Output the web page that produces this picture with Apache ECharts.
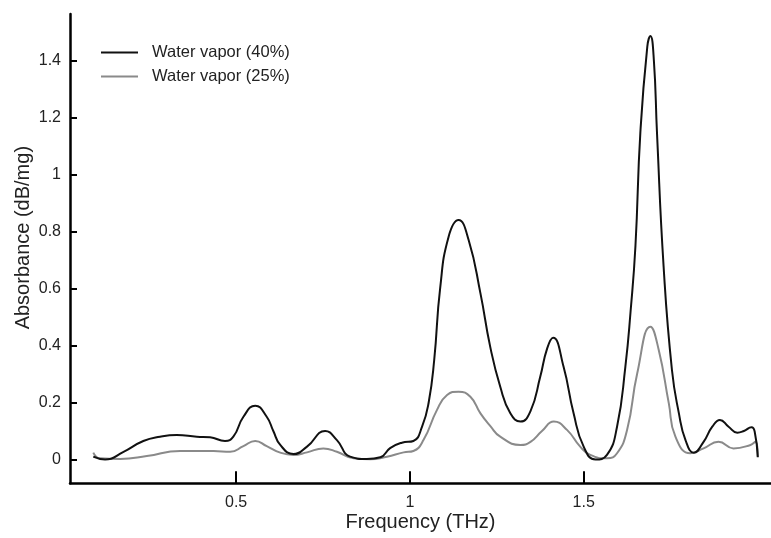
<!DOCTYPE html>
<html>
<head>
<meta charset="utf-8">
<script src="https://cdn.jsdelivr.net/npm/echarts@6/dist/echarts.min.js"></script>
<style>html,body{margin:0;padding:0;background:#fff}#c{width:771px;height:538px}</style>
</head>
<body>
<div id="c"></div>
<script>
const freq40 = [0.089,0.123,0.176,0.233,0.281,0.329,0.387,0.425,0.468,0.492,0.521,0.555,0.588,0.607,0.627,0.665,0.704,0.756,0.790,0.828,0.876,0.915,0.943,0.977,1.010,1.035,1.054,1.070,1.087,1.111,1.140,1.169,1.203,1.231,1.260,1.289,1.318,1.347,1.375,1.395,1.412,1.442,1.471,1.500,1.534,1.567,1.596,1.620,1.635,1.649,1.663,1.683,1.692,1.702,1.711,1.730,1.754,1.774,1.793,1.817,1.845,1.870,1.892,1.917,1.942,1.961,1.983,1.992,2.001];
const abs40  = [0.010,0.000,0.027,0.065,0.080,0.086,0.080,0.078,0.065,0.080,0.150,0.189,0.150,0.100,0.051,0.019,0.045,0.100,0.068,0.010,0.002,0.008,0.040,0.059,0.065,0.115,0.200,0.350,0.600,0.780,0.840,0.770,0.583,0.396,0.255,0.162,0.133,0.170,0.290,0.390,0.427,0.326,0.162,0.045,0.000,0.016,0.115,0.326,0.520,0.750,1.145,1.448,1.486,1.400,1.145,0.677,0.314,0.162,0.068,0.024,0.062,0.115,0.139,0.115,0.094,0.100,0.113,0.098,0.008];
const freq25 = [0.089,0.108,0.166,0.243,0.339,0.435,0.483,0.521,0.555,0.588,0.627,0.665,0.704,0.751,0.790,0.838,0.886,0.934,0.982,1.010,1.039,1.078,1.107,1.140,1.174,1.203,1.231,1.260,1.318,1.347,1.380,1.414,1.452,1.490,1.519,1.567,1.596,1.625,1.654,1.692,1.716,1.745,1.764,1.807,1.845,1.888,1.931,1.980,1.994,2.001];
const abs25  = [0.024,0.004,0.002,0.012,0.030,0.030,0.027,0.047,0.065,0.047,0.024,0.016,0.025,0.039,0.027,0.004,0.001,0.010,0.025,0.030,0.068,0.174,0.226,0.238,0.220,0.162,0.118,0.080,0.051,0.062,0.100,0.133,0.104,0.045,0.016,0.004,0.022,0.104,0.302,0.466,0.384,0.197,0.080,0.022,0.039,0.062,0.039,0.051,0.062,0.010];
const xTicks = [0.5, 1, 1.5];
const yTicks = [0, 0.2, 0.4, 0.6, 0.8, 1, 1.2, 1.4];
const seriesNames = ['Water vapor (40%)', 'Water vapor (25%)'];

const pairs = (xs, ys) => xs.map((x, i) => [x, ys[i]]);
const chart = echarts.init(document.getElementById('c'), null, {renderer: 'canvas'});
const fontFam = 'Liberation Sans, Arial, Helvetica, sans-serif';
chart.setOption({
  animation: false,
  backgroundColor: '#fff',
  grid: {left: 70, right: 0, top: 14, bottom: 54.7, containLabel: false, outerBoundsMode: 'none'},
  legend: {
    left: 101, top: 44, orient: 'vertical', padding: 0,
    icon: 'rect', itemWidth: 37, itemHeight: 2, itemGap: 7,
    textStyle: {fontFamily: fontFam, fontSize: 16.5, color: '#222', padding: [0,0,0,9]},
    data: seriesNames
  },
  xAxis: {
    type: 'value', min: 0.022, max: 2.039,
    name: 'Frequency (THz)', nameLocation: 'middle', nameGap: 29, nameMoveOverlap: false,
    nameTextStyle: {fontFamily: fontFam, fontSize: 20, color: '#222'},
    axisLine: {onZero: false, lineStyle: {color: '#000', width: 2.5}},
    axisTick: {inside: true, length: 12, lineStyle: {color: '#000', width: 2}, customValues: xTicks},
    axisLabel: {fontFamily: fontFam, fontSize: 16, color: '#222', margin: 11, customValues: xTicks},
    splitLine: {show: false}
  },
  yAxis: {
    type: 'value', min: -0.0835, max: 1.563,
    name: 'Absorbance (dB/mg)', nameLocation: 'middle', nameGap: 37, nameMoveOverlap: false,
    nameTextStyle: {fontFamily: fontFam, fontSize: 20, color: '#222', padding: [0,0,0,22]},
    axisLine: {show: true, onZero: false, lineStyle: {color: '#000', width: 2.5}},
    axisTick: {show: true, inside: true, length: 7, lineStyle: {color: '#000', width: 2}, customValues: yTicks},
    axisLabel: {fontFamily: fontFam, fontSize: 16, color: '#222', margin: 9, customValues: yTicks},
    splitLine: {show: false}
  },
  series: [
    {name: seriesNames[0], type: 'line', data: pairs(freq40, abs40), smooth: 0.5, symbol: 'none',
     lineStyle: {color: '#111', width: 2}, itemStyle: {color: '#111'}, z: 3},
    {name: seriesNames[1], type: 'line', data: pairs(freq25, abs25), smooth: 0.5, symbol: 'none',
     lineStyle: {color: '#8a8a8a', width: 2}, itemStyle: {color: '#8a8a8a'}, z: 2}
  ]
});
</script>
</body>
</html>
